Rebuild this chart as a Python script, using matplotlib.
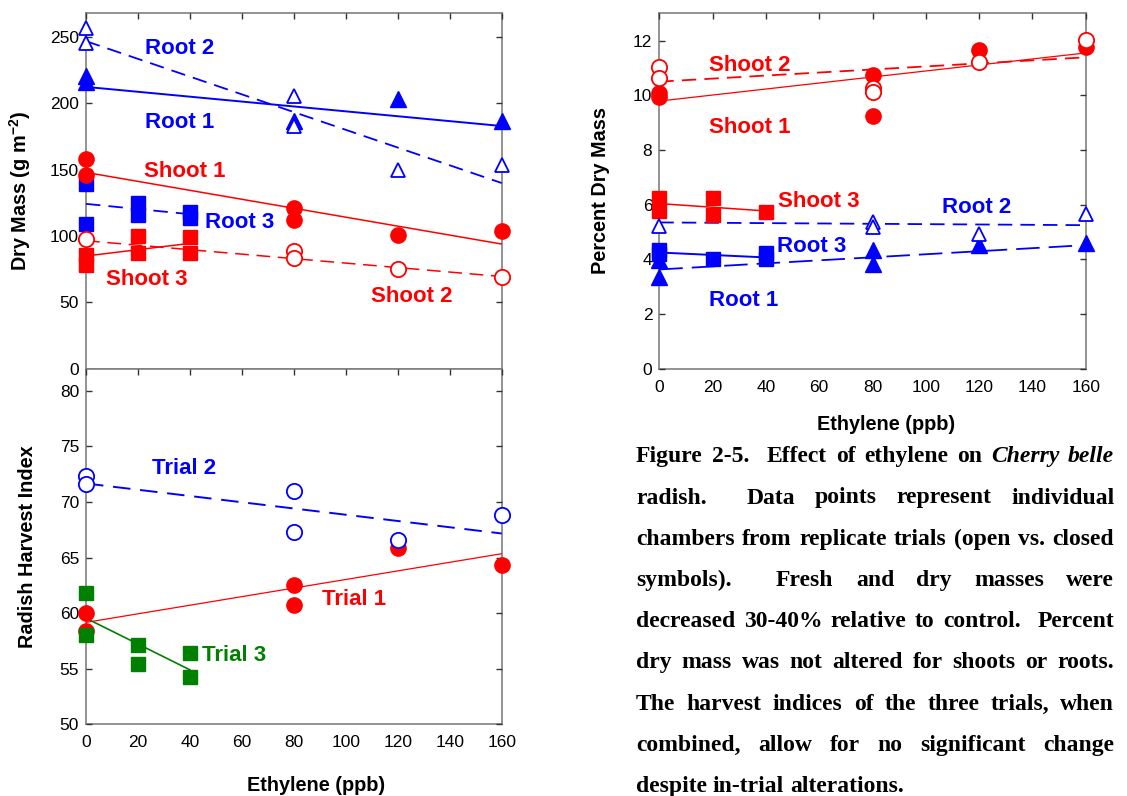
import numpy as np
import matplotlib
matplotlib.use("Agg")
import matplotlib.pyplot as plt

plt.rcParams['font.family'] = ['Liberation Sans', 'DejaVu Sans']
plt.rcParams['mathtext.fontset'] = 'custom'
plt.rcParams['mathtext.rm'] = 'Liberation Sans:bold'
plt.rcParams['mathtext.bf'] = 'Liberation Sans:bold'
plt.rcParams['mathtext.default'] = 'bf'

BLUE = '#0000ff'
RED = '#ff0000'
GREEN = '#008000'
SPINE = '#808080'

x_ticks = [0, 20, 40, 60, 80, 100, 120, 140, 160]

# dry mass (g m-2)
dm_root1_x = [0, 0, 80, 120, 160]
dm_root1 = [221, 216.5, 186.5, 203, 187]
dm_root2_x = [0, 0, 80, 80, 120, 160]
dm_root2 = [257, 245.5, 205.5, 183, 150, 153.5]
dm_root3_x = [0, 0, 20, 20, 40, 40]
dm_root3 = [139.5, 109, 124.8, 116, 118.5, 113.5]
dm_shoot1_x = [0, 0, 80, 80, 120, 160]
dm_shoot1 = [158, 146, 121, 112, 101, 104]
dm_shoot2_x = [0, 80, 80, 120, 160]
dm_shoot2 = [97.5, 88.5, 83.5, 75, 69.5]
dm_shoot3_x = [0, 0, 20, 20, 40, 40]
dm_shoot3 = [86, 78.5, 99.8, 87, 99, 87.5]

# fitted lines, values at start / end ethylene
dm_fit_root1 = [212.5, 183]
dm_fit_root2 = [247, 140]
dm_fit_root3 = [124.3, 116.5]
dm_fit_shoot1 = [148, 94]
dm_fit_shoot2 = [96.5, 69.5]
dm_fit_shoot3 = [85, 94.5]

# percent dry mass
pd_root1_x = [0, 0, 80, 80, 120, 160]
pd_root1 = [3.97, 3.36, 4.33, 3.82, 4.52, 4.58]
pd_root2_x = [0, 80, 80, 120, 160]
pd_root2 = [5.22, 5.37, 5.18, 4.92, 5.67]
pd_root3_x = [0, 0, 20, 40, 40]
pd_root3 = [4.35, 4.18, 4.03, 4.22, 4.02]
pd_shoot1_x = [0, 0, 80, 80, 120, 160]
pd_shoot1 = [10.1, 9.95, 10.76, 9.26, 11.67, 11.78]
pd_shoot2_x = [0, 0, 80, 80, 120, 160]
pd_shoot2 = [11.03, 10.63, 10.27, 10.12, 11.21, 12.04]
pd_shoot3_x = [0, 0, 20, 20, 40]
pd_shoot3 = [6.26, 5.78, 6.26, 5.62, 5.72]

pd_fit_root1 = [3.63, 4.52]
pd_fit_root2 = [5.35, 5.25]
pd_fit_root3 = [4.25, 4.07]
pd_fit_shoot1 = [9.79, 11.55]
pd_fit_shoot2 = [10.5, 11.39]
pd_fit_shoot3 = [6.04, 5.77]

# radish harvest index
hi_trial1_x = [0, 0, 80, 80, 120, 160]
hi_trial1 = [60.0, 58.4, 62.55, 60.75, 65.85, 64.35]
hi_trial2_x = [0, 0, 80, 80, 120, 160]
hi_trial2 = [72.35, 71.6, 71.0, 67.3, 66.6, 68.8]
hi_trial3_x = [0, 0, 20, 20, 40, 40]
hi_trial3 = [61.85, 58.05, 57.1, 55.4, 56.4, 54.3]

hi_fit_trial1 = [59.17, 65.35]
hi_fit_trial2 = [71.67, 67.17]
hi_fit_trial3 = [59.55, 54.9]

full_span = [0, 160]
short_span = [0, 40]

caption_lines = [
    "Figure 2-5.  Effect of ethylene on |Cherry |belle",
    "radish.  Data points represent individual",
    "chambers from replicate trials (open vs. closed",
    "symbols).  Fresh and dry masses were",
    "decreased 30-40% relative to control.  Percent",
    "dry mass was not altered for shoots or roots.",
    "The harvest indices of the three trials, when",
    "combined, allow for no significant change",
    "despite in-trial alterations.",
]

W, H = 1127, 796
fig = plt.figure(figsize=(W / 100, H / 100), dpi=100)

ax_dm = fig.add_axes([86 / W, 1 - 368.7 / H, 415.7 / W, 355.4 / H])
ax_hi = fig.add_axes([86 / W, 1 - 724.3 / H, 415.7 / W, 355.6 / H])
ax_pd = fig.add_axes([659.3 / W, 1 - 368.7 / H, 426.4 / W, 355.4 / H])


def style(ax, ylim, yticks, bottom_labels=True):
    ax.set_xlim(0, 160)
    ax.set_ylim(*ylim)
    ax.set_xticks(x_ticks)
    ax.set_yticks(yticks)
    for s in ax.spines.values():
        s.set_color(SPINE)
        s.set_linewidth(1.2)
        s.set_zorder(1)
    ax.tick_params(direction='in', length=4, width=1, color='#333333',
                   top=True, right=True, labelsize=12.5)
    ax.tick_params(axis='x', pad=8)
    ax.tick_params(axis='y', pad=5)
    for t in ax.xaxis.get_major_ticks():
        t.tick1line.set_visible(False)
    if not bottom_labels:
        ax.tick_params(axis='x', labelbottom=False)


def pts(ax, x, y, color, marker, ms, filled):
    if filled:
        ax.plot(x, y, ls='none', marker=marker, ms=ms, mfc=color, mec=color,
                mew=1, clip_on=False, zorder=4)
    else:
        ax.plot(x, y, ls='none', marker=marker, ms=ms, mfc='white', mec=color,
                mew=1.3, clip_on=False, zorder=5)


def fit(ax, span, vals, color, lw, dash=None):
    ls = '-' if dash is None else (0, dash)
    ax.plot(span, vals, color=color, lw=lw, ls=ls, zorder=3)


lab = dict(fontsize=16, fontweight='bold', ha='left', va='center', zorder=6)
axlab = dict(fontsize=14.3, fontweight='bold', ha='center', va='center')

# ---- dry mass panel
style(ax_dm, (0, 268), [0, 50, 100, 150, 200, 250], bottom_labels=False)
fit(ax_dm, full_span, dm_fit_root2, BLUE, 1.3, (8, 4.5))
fit(ax_dm, full_span, dm_fit_root1, BLUE, 1.4)
fit(ax_dm, full_span, dm_fit_shoot1, RED, 1.1)
fit(ax_dm, full_span, dm_fit_shoot2, RED, 1.1, (9, 5))
fit(ax_dm, short_span, dm_fit_root3, BLUE, 1.3, (8, 4.5))
fit(ax_dm, short_span, dm_fit_shoot3, RED, 1.1)
pts(ax_dm, dm_shoot3_x, dm_shoot3, RED, 's', 10, True)
pts(ax_dm, dm_root3_x, dm_root3, BLUE, 's', 10, True)
pts(ax_dm, dm_shoot1_x, dm_shoot1, RED, 'o', 11, True)
pts(ax_dm, dm_root1_x, dm_root1, BLUE, '^', 11, True)
pts(ax_dm, dm_shoot2_x, dm_shoot2, RED, 'o', 11, False)
pts(ax_dm, dm_root2_x, dm_root2, BLUE, '^', 10.5, False)
ax_dm.text(22.7, 241.8, 'Root 2', color=BLUE, **lab)
ax_dm.text(22.7, 185.7, 'Root 1', color=BLUE, **lab)
ax_dm.text(22.5, 148.7, 'Shoot 1', color=RED, **lab)
ax_dm.text(45.8, 110.2, 'Root 3', color=BLUE, **lab)
ax_dm.text(7.7, 67.4, 'Shoot 3', color=RED, **lab)
ax_dm.text(109.6, 54.3, 'Shoot 2', color=RED, **lab)
ax_dm.text(-0.159, 0.5, r'Dry Mass (g m$^{-2}$)', transform=ax_dm.transAxes,
           rotation=90, **axlab)

# ---- harvest index panel
style(ax_hi, (50, 82), [50, 55, 60, 65, 70, 75, 80])
fit(ax_hi, full_span, hi_fit_trial2, BLUE, 1.4, (9, 5))
fit(ax_hi, full_span, hi_fit_trial1, RED, 0.9)
fit(ax_hi, short_span, hi_fit_trial3, GREEN, 1.2)
pts(ax_hi, hi_trial1_x, hi_trial1, RED, 'o', 11, True)
pts(ax_hi, hi_trial3_x, hi_trial3, GREEN, 's', 10, True)
pts(ax_hi, hi_trial2_x, hi_trial2, BLUE, 'o', 11, False)
ax_hi.text(25.3, 73.0, 'Trial 2', color=BLUE, **lab)
ax_hi.text(90.8, 61.2, 'Trial 1', color=RED, **lab)
ax_hi.text(44.8, 56.15, 'Trial 3', color=GREEN, **lab)
ax_hi.text(-0.14, 0.5, 'Radish Harvest Index', transform=ax_hi.transAxes,
           rotation=90, **axlab)
ax_hi.text(0.553, -0.171, 'Ethylene (ppb)', transform=ax_hi.transAxes, **axlab)

# ---- percent dry mass panel
style(ax_pd, (0, 13), [0, 2, 4, 6, 8, 10, 12])
fit(ax_pd, full_span, pd_fit_shoot2, RED, 1.3, (8, 4.5))
fit(ax_pd, full_span, pd_fit_shoot1, RED, 0.9)
fit(ax_pd, short_span, pd_fit_shoot3, RED, 1.1)
fit(ax_pd, full_span, pd_fit_root2, BLUE, 1.3, (8, 4.5))
fit(ax_pd, full_span, pd_fit_root1, BLUE, 1.3, (13, 5))
fit(ax_pd, short_span, pd_fit_root3, BLUE, 1.4)
pts(ax_pd, pd_shoot1_x, pd_shoot1, RED, 'o', 11, True)
pts(ax_pd, pd_shoot3_x, pd_shoot3, RED, 's', 10, True)
pts(ax_pd, pd_root1_x, pd_root1, BLUE, '^', 11, True)
pts(ax_pd, pd_root3_x, pd_root3, BLUE, 's', 10, True)
pts(ax_pd, pd_shoot2_x, pd_shoot2, RED, 'o', 11, False)
pts(ax_pd, pd_root2_x, pd_root2, BLUE, '^', 10.5, False)
ax_pd.text(18.6, 11.09, 'Shoot 2', color=RED, **lab)
ax_pd.text(18.6, 8.84, 'Shoot 1', color=RED, **lab)
ax_pd.text(44.4, 6.1, 'Shoot 3', color=RED, **lab)
ax_pd.text(106, 5.89, 'Root 2', color=BLUE, **lab)
ax_pd.text(44, 4.48, 'Root 3', color=BLUE, **lab)
ax_pd.text(18.6, 2.51, 'Root 1', color=BLUE, **lab)
ax_pd.text(-0.137, 0.5, 'Percent Dry Mass', transform=ax_pd.transAxes,
           rotation=90, **axlab)
ax_pd.text(0.532, -0.156, 'Ethylene (ppb)', transform=ax_pd.transAxes, **axlab)

# ---- justified caption
renderer = fig.canvas.get_renderer()
cap_left, cap_right = 636, 1114.3
base0, line_step = 462.3, 41.2
cap_font = dict(family=['Liberation Serif', 'DejaVu Serif'], fontsize=17,
                fontweight='bold', va='baseline', ha='left')
space_px = 0.25 * 17 * 100 / 72
for i, line in enumerate(caption_lines):
    y = 1 - (base0 + i * line_step) / H
    tokens = line.split(' ')
    texts = []
    for tok in tokens:
        italic = tok.startswith('|')
        word = tok.lstrip('|')
        t = fig.text(0, y, word, style='italic' if italic else 'normal', **cap_font)
        texts.append(t)
    widths = [t.get_window_extent(renderer).width if t.get_text() else 0 for t in texts]
    if i == len(caption_lines) - 1:
        gap = space_px
    else:
        gap = (cap_right - cap_left - sum(widths)) / (len(tokens) - 1)
    xpos = cap_left
    for t, w in zip(texts, widths):
        t.set_x(xpos / W)
        xpos += w + gap

fig.savefig('out.png', dpi=100)
